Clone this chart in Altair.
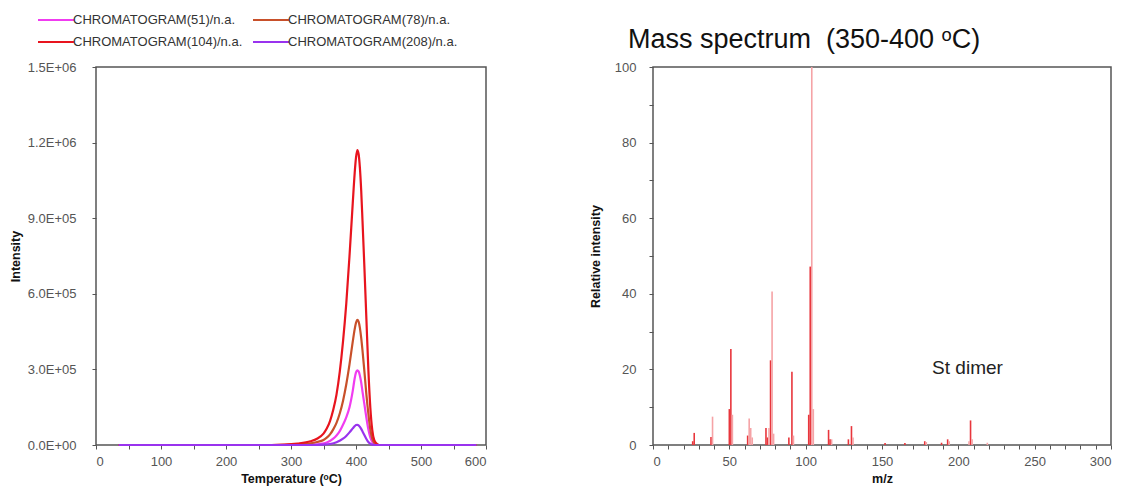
import altair as alt
import pandas as pd

# ---------------- Left: chromatograms ----------------
series_names = ["CHROMATOGRAM(51)/n.a.", "CHROMATOGRAM(78)/n.a.",
                "CHROMATOGRAM(104)/n.a.", "CHROMATOGRAM(208)/n.a."]
series_colors = ["#F03CF0", "#C8502A", "#E8141E", "#9933EE"]
# legend fills column by column: 51, 104 | 78, 208
legend_order = [series_names[0], series_names[2], series_names[1], series_names[3]]
legend_colors = [series_colors[0], series_colors[2], series_colors[1], series_colors[3]]

t_51 = [35, 300, 330, 345, 355, 365, 370, 375, 380, 385, 390, 395, 398, 400, 402, 404, 406, 408, 410, 413, 416, 419, 422, 425, 428, 432, 585]
i_51 = [0, 0, 1000, 4000, 10000, 25000, 38000, 55000, 80000, 110000, 150000, 215000, 265000, 288000, 296000, 292000, 275000, 248000, 212000, 160000, 108000, 62000, 30000, 12000, 4000, 0, 0]

t_78 = [35, 250, 290, 310, 330, 340, 350, 355, 360, 365, 370, 375, 380, 385, 390, 395, 398, 400, 402, 404, 406, 408, 410, 413, 416, 419, 422, 425, 428, 432, 436, 585]
i_78 = [0, 0, 1000, 3000, 7000, 12000, 20000, 29000, 42000, 62000, 88000, 125000, 175000, 240000, 320000, 410000, 460000, 485000, 497000, 490000, 465000, 425000, 375000, 290000, 200000, 125000, 62000, 25000, 9000, 2000, 0, 0]

t_104 = [35, 250, 290, 310, 330, 340, 350, 355, 360, 365, 370, 375, 380, 385, 390, 395, 398, 400, 402, 404, 406, 408, 410, 413, 416, 419, 422, 425, 428, 432, 436, 585]
i_104 = [0, 0, 2000, 6000, 15000, 25000, 45000, 65000, 95000, 140000, 200000, 290000, 410000, 560000, 750000, 960000, 1080000, 1140000, 1170000, 1155000, 1100000, 1010000, 890000, 700000, 500000, 300000, 150000, 60000, 20000, 5000, 0, 0]

t_208 = [35, 330, 350, 360, 370, 380, 385, 390, 395, 398, 400, 402, 404, 406, 408, 410, 413, 416, 419, 422, 425, 430, 585]
i_208 = [0, 0, 1500, 4000, 11000, 25000, 36000, 50000, 66000, 75000, 79000, 80000, 78000, 72000, 64000, 54000, 39000, 24000, 12000, 5000, 1500, 0, 0]

temp_ticks = [0, 50, 100, 150, 200, 250, 300, 350, 400, 450, 500, 550, 600]
int_ticks = [0, 300000, 600000, 900000, 1200000, 1500000]

rows = []
for name, ts, vs in zip(series_names, [t_51, t_78, t_104, t_208], [i_51, i_78, i_104, i_208]):
    for t, v in zip(ts, vs):
        rows.append({"series": name, "T": t, "I": v})
chrom = pd.DataFrame(rows)

left = alt.Chart(chrom).mark_line(strokeWidth=2.2, interpolate="monotone").encode(
    x=alt.X("T:Q", scale=alt.Scale(domain=[0, 600], nice=False),
            axis=alt.Axis(title="Temperature (ᵒC)", values=temp_ticks, labelOverlap=False,
                          labelExpr="datum.value % 100 == 0 ? datum.label : ''")),
    y=alt.Y("I:Q", scale=alt.Scale(domain=[0, 1500000], nice=False),
            axis=alt.Axis(title="Intensity", values=int_ticks, labelOverlap=False,
                          titlePadding=5, labelPadding=16,
                          labelExpr="replace(upper(format(datum.value, '.1e')), regexp('E\\\\+(\\\\d)$'), 'E+0$1')")),
    color=alt.Color("series:N", sort=legend_order,
                    scale=alt.Scale(domain=legend_order, range=legend_colors),
                    legend=alt.Legend(title=None, orient="none", legendX=-50, legendY=-57,
                                      columns=2, symbolType="M-2,0H2", symbolSize=324,
                                      symbolStrokeWidth=2, labelFontSize=13, labelLimit=400,
                                      labelColor="#333", rowPadding=5, columnPadding=6,
                                      labelOffset=7)),
    order=alt.Order("T:Q"),
).properties(width=390, height=378)

# ---------------- Right: mass spectrum ----------------
mz_dark = [26, 27, 38, 50, 51, 62, 74, 75, 77, 89, 91, 102, 103, 115, 116, 128, 130, 152, 165, 178, 189, 193, 208]
rel_dark = [1.0, 3.2, 2.1, 9.5, 25.4, 2.5, 4.5, 2.0, 22.4, 2.0, 19.4, 8.0, 47.2, 4.0, 1.5, 1.5, 5.0, 0.5, 0.5, 1.0, 0.6, 1.5, 6.5]
mz_light = [39, 52, 63, 64, 65, 76, 78, 79, 92, 104, 105, 117, 131, 179, 194, 207, 209, 219]
rel_light = [7.5, 8.0, 7.0, 4.5, 2.0, 4.5, 40.6, 3.0, 2.5, 100.0, 9.5, 1.5, 2.0, 0.8, 1.0, 1.0, 1.5, 0.6]

mz_ticks = list(range(0, 301, 10))
rel_ticks = list(range(0, 101, 10))

spec = pd.DataFrame(
    [{"mz": m, "rel": r, "shade": "dark"} for m, r in zip(mz_dark, rel_dark)]
    + [{"mz": m, "rel": r, "shade": "light"} for m, r in zip(mz_light, rel_light)]
)

note_text = ["St dimer"]
note_mz = [206]
note_rel = [20.5]
notes = pd.DataFrame({"text": note_text, "mz": note_mz, "rel": note_rel})

xs = alt.X("mz:Q", scale=alt.Scale(domain=[0, 300], nice=False),
           axis=alt.Axis(title="m/z", values=mz_ticks, labelOverlap=False,
                         labelExpr="datum.value % 50 == 0 ? datum.label : ''"))
ys = alt.Y("rel:Q", scale=alt.Scale(domain=[0, 100], nice=False),
           axis=alt.Axis(title="Relative intensity", values=rel_ticks, labelOverlap=False,
                         titlePadding=12,
                         labelExpr="datum.value % 20 == 0 ? datum.label : ''"))

bars = alt.Chart(spec).mark_rule(strokeWidth=1.6).encode(
    x=xs, y=ys, y2=alt.datum(0),
    color=alt.Color("shade:N", scale=alt.Scale(domain=["light", "dark"],
                                               range=["#F5A3A6", "#E8363C"]), legend=None),
)
note = alt.Chart(notes).mark_text(fontSize=19, color="#222", font="Liberation Sans").encode(
    x=xs, y=ys, text="text:N")

right = alt.layer(bars, note).properties(
    width=458, height=378,
    title=alt.TitleParams("Mass spectrum\u00a0 (350-400 ᵒC)", anchor="start", frame="group",
                          dx=-25, fontSize=27, fontWeight="normal", color="#111",
                          font="Liberation Sans", offset=7),
)

chart = alt.hconcat(left, right, spacing=100).resolve_scale(
    color="independent"
).properties(
    padding={"left": 0, "top": 1, "right": 5, "bottom": 5}
).configure(
    font="Liberation Sans",
).configure_view(
    stroke="#555", strokeWidth=1.5,
).configure_axis(
    grid=False, domain=False, tickColor="#555", tickSize=4, tickWidth=1,
    labelColor="#555", labelFontSize=13, labelPadding=6,
    titleColor="#111", titleFontSize=12.5, titleFontWeight="bold",
    labelFont="Liberation Sans", titleFont="Liberation Sans",
).configure_axisY(labelPadding=13)

chart.save("out.html", embed_options={"renderer": "svg", "actions": False})
